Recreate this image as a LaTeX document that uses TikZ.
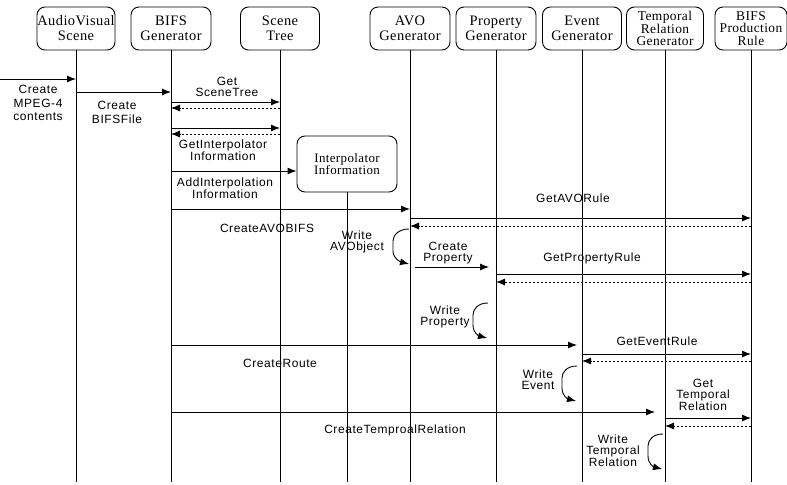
\documentclass[tikz,border=0pt]{standalone}
\usepackage{fontspec}
\setmainfont{Liberation Serif}
\newfontfamily\labfont[LetterSpace=5]{Liberation Sans}
\newfontfamily\headfont[LetterSpace=3]{Liberation Serif}
\usetikzlibrary{arrows.meta,calc}
\begin{document}
\begin{tikzpicture}[x=1bp,y=-1bp,
  obj/.style={draw,rounded corners=8bp,line width=0.9bp,minimum height=43bp,inner sep=0pt,align=center,font=\headfont\fontsize{14.5}{15}\selectfont},
  obj3/.style={obj,font=\headfont\fontsize{13.5}{12.5}\selectfont},
  lbl/.style={align=center,inner sep=0pt,font=\labfont\fontsize{12}{11}\selectfont},
  life/.style={line width=0.8bp},
  msg/.style={line width=0.9bp,-{Latex[length=9bp,width=7bp]}},
  ret/.style={line width=0.8bp,dash pattern=on 2bp off 2bp,-{Latex[length=9bp,width=7bp]}},
]
\useasboundingbox (0,0) rectangle (787,485);
% participants
\node[obj,minimum width=78bp] (av) at (76,28.5) {AudioVisual\\Scene};
\node[obj,minimum width=80bp] (bifs) at (171,28.5) {BIFS\\Generator};
\node[obj,minimum width=79bp] (tree) at (280,28.5) {Scene\\Tree};
\node[obj,minimum width=80bp] (avo) at (410,28.5) {AVO\\Generator};
\node[obj,minimum width=80bp] (prop) at (496,28.5) {Property\\Generator};
\node[obj,minimum width=79bp] (event) at (582,28.5) {Event\\Generator};
\node[obj3,minimum width=77bp] (temp) at (665,28.5) {Temporal\\Relation\\Generator};
\node[obj3,minimum width=72bp] (rule) at (751,28.5) {BIFS\\Production\\Rule};
\node[obj,minimum width=100bp,minimum height=56bp,font=\headfont\fontsize{13}{12}\selectfont] (interp) at (347,164) {Interpolator\\Information};
% lifelines
\foreach \n in {av,bifs,tree,avo,prop,event,temp,rule}
  \draw[life] (\n.south) -- (\n.south |- 0,482);
\draw[life] (interp.south) -- (interp.south |- 0,482);
% messages
\coordinate (ext) at (0,79);
\draw[msg] (ext) -- (av |- ext);
\draw[msg] (av |- 0,92) -- (bifs |- 0,92);
\draw[msg] (bifs |- 0,102) -- (tree |- 0,102);
\draw[ret] (tree |- 0,108) -- (bifs |- 0,108);
\draw[msg] (bifs |- 0,128) -- (tree |- 0,128);
\draw[ret] (tree |- 0,134) -- (bifs |- 0,134);
\draw[msg] (bifs |- 0,171) -- (interp.west |- 0,171);
\draw[msg] (bifs |- 0,209) -- (avo |- 0,209);
\draw[msg] (avo |- 0,218) -- (rule |- 0,218);
\draw[ret] (rule |- 0,226) -- (avo |- 0,226);
\draw[msg] ($(avo |- 0,229)+(-1,0)$) .. controls +(-10,0) and +(0,-6) .. ++(-16,12) -- ++(0,10) .. controls +(0,8) and +(-8,-2) .. ++(16,13);
\draw[msg] ($(avo |- 0,267)+(5,0)$) -- ($(prop |- 0,267)+(-7,0)$);
\draw[msg] (prop |- 0,274) -- (rule |- 0,274);
\draw[ret] (rule |- 0,282) -- (prop |- 0,282);
\draw[msg] ($(prop |- 0,303)+(-8,0)$) .. controls +(-10,0) and +(0,-6) .. ++(-15,12) -- ++(0,10) .. controls +(0,8) and +(-8,-2) .. ++(14,13);
\draw[msg] (bifs |- 0,345) -- ($(event |- 0,345)+(-5,0)$);
\draw[msg] (event |- 0,354) -- (rule |- 0,354);
\draw[ret] (rule |- 0,361) -- (event |- 0,361);
\draw[msg] ($(event |- 0,366)+(-5,0)$) .. controls +(-10,0) and +(0,-6) .. ++(-15,12) -- ++(0,10) .. controls +(0,8) and +(-8,-2) .. ++(14,13);
\draw[msg] (bifs |- 0,412) -- ($(temp |- 0,412)+(-10,0)$);
\draw[msg] (temp |- 0,418) -- (rule |- 0,418);
\draw[ret] (rule |- 0,426) -- (temp |- 0,426);
\draw[msg] ($(temp |- 0,434)+(-2,0)$) .. controls +(-10,0) and +(0,-6) .. ++(-15,12) -- ++(0,10) .. controls +(0,8) and +(-8,-2) .. ++(14,13);
% labels
\node[lbl,font=\labfont\fontsize{12}{13.5}\selectfont] (l1) at (38,103) {Create\\MPEG-4\\contents};
\node[lbl,font=\labfont\fontsize{12}{14}\selectfont] (l2) at (117,112) {Create\\BIFSFile};
\node[lbl] (l3) at (227,87) {Get\\SceneTree};
\node[lbl] (l4) at (223,150) {GetInterpolator\\Information};
\node[lbl] (l5) at (225,188) {AddInterpolation\\Information};
\node[lbl] (l6) at (267,228) {CreateAVOBIFS};
\node[lbl] (l7) at (573,198) {GetAVORule};
\node[lbl] (l8) at (357,242) {Write\\AVObject};
\node[lbl] (l9) at (448,253) {Create\\Property};
\node[lbl] (l10) at (592,258) {GetPropertyRule};
\node[lbl] (l11) at (445,317) {Write\\Property};
\node[lbl] (l12) at (280,363) {CreateRoute};
\node[lbl] (l13) at (657,341) {GetEventRule};
\node[lbl] (l14) at (538,380) {Write\\Event};
\node[lbl] (l15) at (395,430) {CreateTemproalRelation};
\node[lbl] (l16) at (703,395) {Get\\Temporal\\Relation};
\node[lbl] (l17) at (613,451) {Write\\Temporal\\Relation};
\end{tikzpicture}
\end{document}
